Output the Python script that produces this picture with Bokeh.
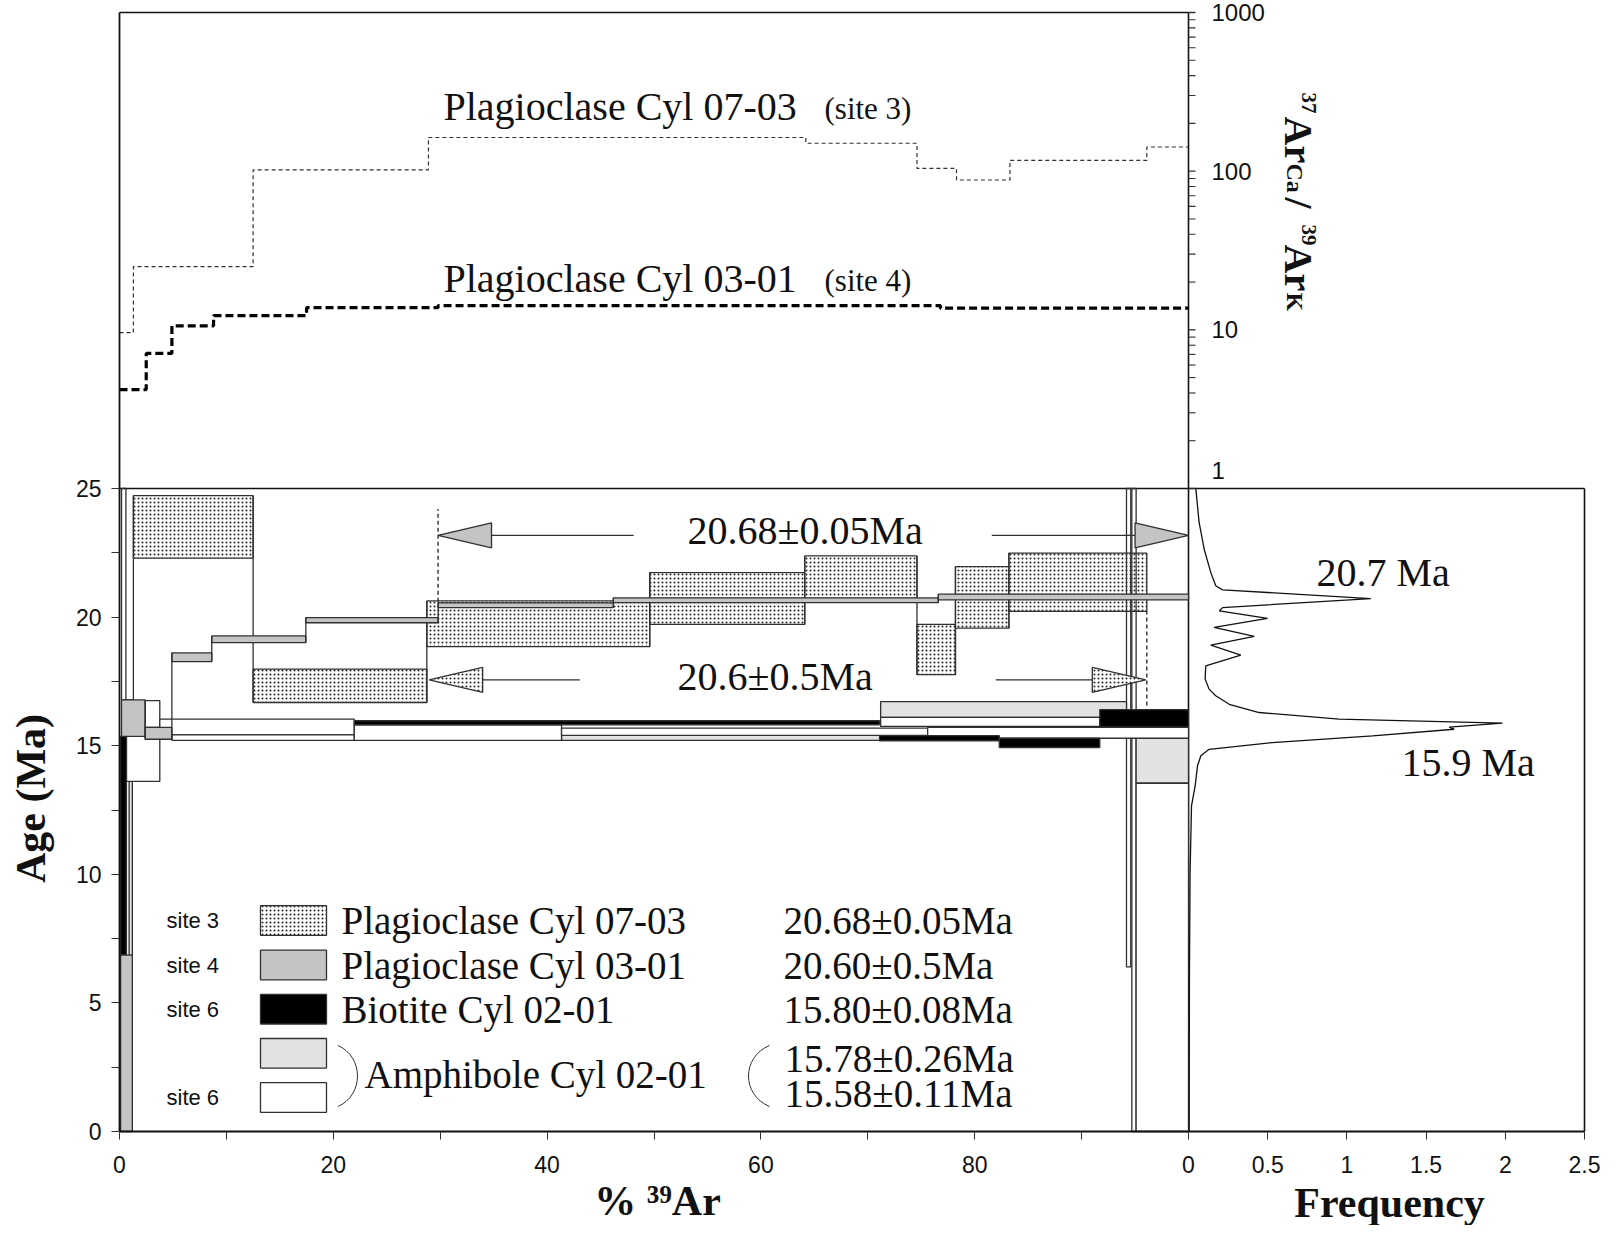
import math
from bokeh.plotting import figure
from bokeh.models import FixedTicker, Range1d, LogScale, CustomJSTickFormatter
from bokeh.embed import file_html
from bokeh.resources import INLINE
from bokeh.core.properties import value

# ======================= DATA =======================
# Upper panel: 37ArCa/39ArK step spectra (step edges in % 39Ar, ratio per step)
ratio_s3_edges = [0, 1.3, 12.5, 28.9, 64.2, 74.6, 78.3, 83.3, 96.1, 100]
ratio_s3 = [9.6, 25, 102, 163, 150, 104, 88, 117, 142]
ratio_s4_edges = [0, 2.5, 4.9, 8.8, 17.5, 29.8, 76.8, 100]
ratio_s4 = [4.2, 7.1, 10.6, 12.3, 13.8, 14.2, 13.7]
ratio_labels = ["Plagioclase Cyl 07-03", "Plagioclase Cyl 03-01"]
ratio_sites = ["(site 3)", "(site 4)"]

# Age spectra: step start / end (% 39Ar), age low / high (Ma)
s3_x0 = [0.6, 1.3, 12.5, 28.75, 49.6, 64.1, 74.6, 78.2, 83.2]
s3_x1 = [1.3, 12.5, 28.75, 49.6, 64.1, 74.6, 78.2, 83.2, 96.1]
s3_lo = [15.5, 22.29, 16.68, 18.85, 19.72, 20.6, 17.76, 19.57, 20.22]
s3_hi = [16.78, 24.72, 17.98, 20.63, 21.73, 22.38, 19.72, 21.96, 22.49]

s4_x0 = [0.1, 0.19, 2.4, 4.9, 8.63, 17.43, 29.81, 46.2, 76.6]
s4_x1 = [1.2, 2.4, 4.9, 8.63, 17.43, 29.81, 46.2, 76.6, 100]
s4_lo = [0.0, 15.36, 15.25, 18.27, 19.01, 19.78, 20.37, 20.56, 20.67]
s4_hi = [6.86, 16.78, 15.71, 18.61, 19.27, 19.98, 20.55, 20.75, 20.89]

bt_x0 = [0.1, 21.96, 71.1, 82.3, 91.7]
bt_x1 = [0.65, 71.1, 82.3, 91.7, 100]
bt_lo = [6.86, 15.81, 15.19, 14.93, 15.73]
bt_hi = [15.36, 15.97, 15.39, 15.29, 16.4]

am1_x0 = [0.9, 41.35, 71.2, 95.1]
am1_x1 = [1.2, 71.2, 94.2, 100]
am1_lo = [6.86, 15.21, 16.10, 13.54]
am1_hi = [13.61, 15.42, 16.71, 15.29]

am2_x0 = [0.65, 2.4, 3.77, 4.9, 21.96, 41.35, 71.2, 75.6, 95.1]
am2_x1 = [3.77, 3.77, 21.96, 21.96, 41.35, 75.6, 91.7, 100, 100]
am2_lo = [13.61, 15.71, 15.42, 15.21, 15.21, 15.40, 15.75, 15.29, 0.0]
am2_hi = [15.36, 16.75, 16.03, 15.42, 15.81, 15.68, 16.10, 15.71, 13.54]

# long (large-error) steps
long_x0 = [0.19, 94.2, 94.7]
long_x1 = [0.6, 94.6, 95.1]
long_lo = [16.78, 6.4, 0.0]
long_hi = [25.0, 25.0, 25.0]

# plateau arrows
plat_text = ["20.68\u00b10.05Ma", "20.6\u00b10.5Ma"]
plat_age = [23.18, 17.56]
plat_x0 = [29.8, 28.97]
plat_x1 = [100.0, 96.0]
plat_gap0 = [48.1, 43.06]
plat_gap1 = [81.6, 81.97]
plat_dash_x = [29.8, 96.1]
plat_dash_lo = [20.6, 16.56]
plat_dash_hi = [24.2, 20.22]

# probability density (frequency) curve
freq_age = [25.0, 23.68, 22.64, 21.73, 21.22, 21.06, 20.72, 20.37, 20.24, 19.95, 19.6,
            19.25, 18.91, 18.52, 18.1, 17.59, 17.2, 16.94, 16.61, 16.29, 16.03, 15.88,
            15.72, 15.64, 15.38, 15.12, 14.86, 14.61, 14.22, 13.44, 12.66, 10.07, 6.18, 0.0]
freq_val = [0.046, 0.067, 0.099, 0.141, 0.172, 0.215, 1.151, 0.215, 0.194, 0.499, 0.162,
            0.415, 0.141, 0.33, 0.109, 0.105, 0.13, 0.172, 0.257, 0.446, 0.951, 1.982,
            1.646, 1.677, 1.162, 0.53, 0.13, 0.078, 0.057, 0.042, 0.019, 0.01, 0.006, 0.004]
peak_text = ["20.7 Ma", "15.9 Ma"]

# legend
leg_site = ["site 3", "site 4", "site 6", "", "site 6"]
leg_name = ["Plagioclase Cyl 07-03", "Plagioclase Cyl 03-01", "Biotite Cyl 02-01"]
leg_value = ["20.68\u00b10.05Ma", "20.60\u00b10.5Ma", "15.80\u00b10.08Ma"]
amph_name = "Amphibole Cyl 02-01"
amph_values = ["15.78\u00b10.26Ma", "15.58\u00b10.11Ma"]

age_ticks = [0, 5, 10, 15, 20, 25]
pct_ticks = [0, 20, 40, 60, 80]
freq_ticks = [0, 0.5, 1, 1.5, 2, 2.5]
ratio_ticks = [1, 10, 100, 1000]

# ======================= GEOMETRY (page px) =======================
CAN_L, CAN_T, CAN_W, CAN_H = 8, 8, 1605, 1225
CAN_R, CAN_B = CAN_L + CAN_W, CAN_T + CAN_H
PX_L, PX_B = 127, 1139    # 0 % 39Ar, 0 Ma
PX_100 = 1196             # 100 % 39Ar  == frequency 0
PX_25 = 496               # 25 Ma == ratio 1
PX_1000 = 20              # ratio 1000
PX_F25 = 1592             # frequency 2.5

pct_px = (PX_100 - PX_L) / 100.0
age_px = (PX_B - PX_25) / 25.0
freq_px = (PX_F25 - PX_100) / 2.5
dec_px = (PX_25 - PX_1000) / 3.0
K = freq_px / pct_px   # % units per frequency unit


def px_x(px):
    return (px - PX_L) / pct_px


def px_age(py):
    return (PX_B - py) / age_px


def px_ratio(py):
    return 10 ** ((PX_25 - py) / dec_px)


def px_freq(px):
    return (px - PX_100) / freq_px


SERIF = value("Liberation Serif")
SANS = value("Liberation Sans")
EDGE = "#303030"
GRAY = "#c4c4c4"
LIGHT = "#e2e2e2"
INK = "#111111"

p = figure(width=CAN_W, height=CAN_H,
           x_range=Range1d(px_x(CAN_L), px_x(CAN_R)), y_range=Range1d(px_age(CAN_B), px_age(CAN_T)),
           output_backend="svg", toolbar_location=None, title=None,
           min_border_left=0, min_border_right=0, min_border_top=0, min_border_bottom=0)
p.extra_x_ranges = {"freq": Range1d(px_freq(CAN_L), px_freq(CAN_R))}
p.extra_y_ranges = {"ratio": Range1d(px_ratio(CAN_B), px_ratio(CAN_T))}
p.extra_y_scales = {"ratio": LogScale()}
p.grid.visible = False
p.outline_line_color = None
p.background_fill_color = "white"
p.border_fill_color = "white"

# axes (fixed at 0 % and 0 Ma)
ax = p.yaxis[0]
ax.fixed_location = 0
ax.ticker = FixedTicker(ticks=age_ticks, minor_ticks=[t + 2.5 for t in age_ticks[:-1]])
ax.bounds = (0, px_age(PX_1000))
bx = p.xaxis[0]
bx.fixed_location = 0
bx.ticker = FixedTicker(ticks=pct_ticks + [100 + f * K for f in freq_ticks],
                        minor_ticks=[t + 10 for t in pct_ticks])
bx.formatter = CustomJSTickFormatter(args=dict(k=K), code="""
if (tick < 99.99) { return tick.toFixed(0); }
const f = Math.round((tick - 100) / k * 10) / 10;
return String(f);
""")
bx.bounds = (0, px_x(PX_F25))
for a in (ax, bx):
    a.axis_line_color = INK
    a.axis_line_width = 1.8
    a.major_tick_line_color = EDGE
    a.minor_tick_line_color = EDGE
    a.major_tick_out = 8
    a.minor_tick_out = 8
    a.major_tick_in = 0
    a.minor_tick_in = 0
    a.major_label_text_font = "Liberation Sans"
    a.major_label_text_font_size = "23px"
    a.major_label_text_color = INK
ax.major_label_standoff = 10
bx.major_label_standoff = 16

# frame lines
fx0 = [0, 100, 0, px_x(PX_F25)]
fx1 = [100, 100, px_x(PX_F25), px_x(PX_F25)]
fy0 = [px_age(PX_1000), 0, 25, 0]
fy1 = [px_age(PX_1000), px_age(PX_1000), 25, 25]
p.segment(fx0, fy0, fx1, fy1, line_color=INK, line_width=1.6)

# ---------- upper panel ----------
p.step(ratio_s3_edges, ratio_s3 + [ratio_s3[-1]], mode="after", y_range_name="ratio",
       line_color=EDGE, line_width=1.2, line_dash="4 3")
p.step(ratio_s4_edges, ratio_s4 + [ratio_s4[-1]], mode="after", y_range_name="ratio",
       line_color="black", line_width=3.2, line_dash="8 4")
minor = [m * 10 ** d for d in range(3) for m in range(2, 10)]
tl = 7 / pct_px
p.segment([100] * len(ratio_ticks), ratio_ticks, [100 + tl] * len(ratio_ticks), ratio_ticks,
          y_range_name="ratio", line_color=EDGE, line_width=1.3)
p.segment([100] * len(minor), minor, [100 + tl] * len(minor), minor,
          y_range_name="ratio", line_color=EDGE, line_width=1.1)
rl_y = [px_ratio(478)] + ratio_ticks[1:]
p.text([px_x(1219)] * 4, rl_y, text=[str(t) for t in ratio_ticks], y_range_name="ratio",
       text_font=SANS, text_font_size="24px", text_color=INK, text_baseline="middle")
p.text([px_x(451)] * 2, [px_ratio(114), px_ratio(286)], text=ratio_labels, y_range_name="ratio",
       text_font=SERIF, text_font_size="40px", text_color=INK, text_baseline="middle")
p.text([px_x(832)] * 2, [px_ratio(116), px_ratio(288)], text=ratio_sites, y_range_name="ratio",
       text_font=SERIF, text_font_size="31px", text_color=INK, text_baseline="middle")
# right-hand title 37ArCa/39ArK (rotated, read downwards); (text, size, centre x px, start y px)
pieces = [("37", "21px", 1316, 100), ("Ar", "40px", 1306, 124), ("Ca", "24px", 1302, 171),
          ("/", "40px", 1306, 205), ("39", "21px", 1316, 232), ("Ar", "40px", 1306, 252),
          ("K", "24px", 1302, 300)]
for t, fs, cx_px, sy_px in pieces:
    p.text([px_x(cx_px)], [px_ratio(sy_px)], text=[t], y_range_name="ratio", angle=-math.pi / 2,
           text_font=SERIF, text_font_size=fs, text_font_style="bold", text_color=INK,
           text_align="left", text_baseline="middle")

# ---------- age spectra ----------
BOX = dict(line_color=EDGE, line_width=1.3)
DOTS = dict(fill_color="white", hatch_pattern="dot", hatch_color="#222", hatch_scale=4,
            hatch_weight=1.1)


def connectors(x0, x1, lo, hi):
    xs, a, b = [], [], []
    for i in range(len(x0) - 1):
        if abs(x1[i] - x0[i + 1]) < 1e-9:
            xs.append(x1[i])
            a.append(min(lo[i], lo[i + 1]))
            b.append(max(hi[i], hi[i + 1]))
    p.segment(xs, a, xs, b, line_color=EDGE, line_width=1.3)


p.quad(left=s3_x0, right=s3_x1, bottom=s3_lo, top=s3_hi, **BOX, **DOTS)
connectors(s3_x0, s3_x1, s3_lo, s3_hi)
p.quad(left=long_x0, right=long_x1, bottom=long_lo, top=long_hi, fill_alpha=0, **BOX)
p.quad(left=am1_x0, right=am1_x1, bottom=am1_lo, top=am1_hi, fill_color=LIGHT, **BOX)
p.quad(left=am2_x0, right=am2_x1, bottom=am2_lo, top=am2_hi, fill_color="white", **BOX)
p.quad(left=bt_x0, right=bt_x1, bottom=bt_lo, top=bt_hi, fill_color="black", **BOX)
p.quad(left=s4_x0, right=s4_x1, bottom=s4_lo, top=s4_hi, fill_color=GRAY, **BOX)
connectors(s4_x0, s4_x1, s4_lo, s4_hi)

# plateau arrows
HEAD, HALF = 5.0, 0.485
p.segment(plat_dash_x, plat_dash_lo, plat_dash_x, plat_dash_hi, line_color=EDGE,
          line_width=1.4, line_dash="4 3")
sx0, sx1, sy = [], [], []
for i in range(2):
    sx0 += [plat_x0[i] + HEAD, plat_gap1[i]]
    sx1 += [plat_gap0[i], plat_x1[i] - HEAD]
    sy += [plat_age[i], plat_age[i]]
p.segment(sx0, sy, sx1, sy, line_color=EDGE, line_width=1.3)
tri_x, tri_y = [], []
for i in range(2):
    a = plat_age[i]
    tri_x.append([plat_x0[i], plat_x0[i] + HEAD, plat_x0[i] + HEAD])
    tri_x.append([plat_x1[i], plat_x1[i] - HEAD, plat_x1[i] - HEAD])
    tri_y += [[a, a + HALF, a - HALF]] * 2
p.patches(tri_x[:2], tri_y[:2], fill_color=GRAY, **BOX)
p.patches(tri_x[2:], tri_y[2:], **BOX, **DOTS)
p.text([px_x(695), px_x(685)], [px_age(538), px_age(684)], text=plat_text,
       text_font=SERIF, text_font_size="40px", text_color=INK, text_baseline="middle")

# ---------- frequency panel ----------
p.line(freq_val, freq_age, x_range_name="freq", line_color=INK, line_width=1.3)
p.text([px_freq(1324), px_freq(1409)], [px_age(580), px_age(770)], text=peak_text,
       x_range_name="freq", text_font=SERIF, text_font_size="40px", text_color=INK,
       text_baseline="middle")

# ---------- legend ----------
row_age = [px_age(c) for c in (928, 972.5, 1016.7, 1060.8, 1105)]
hh = 0.575
sw0, sw1 = px_x(268), px_x(334)
fills = [GRAY, "black", LIGHT, "white"]
p.quad(left=[sw0], right=[sw1], bottom=[row_age[0] - hh], top=[row_age[0] + hh], **BOX, **DOTS)
p.quad(left=[sw0] * 4, right=[sw1] * 4, bottom=[r - hh for r in row_age[1:]],
       top=[r + hh for r in row_age[1:]], fill_color=fills, **BOX)
p.text([px_x(174)] * 5, row_age, text=leg_site, text_font=SANS, text_font_size="22px",
       text_color=INK, text_baseline="middle")
p.text([px_x(349)] * 3, row_age[:3], text=leg_name, text_font=SERIF, text_font_size="39px",
       text_color=INK, text_baseline="middle")
p.text([px_x(791)] * 3, row_age[:3], text=leg_value, text_font=SERIF, text_font_size="39px",
       text_color=INK, text_baseline="middle")
p.text([px_x(372)], [px_age(1082)], text=[amph_name], text_font=SERIF, text_font_size="39px",
       text_color=INK, text_baseline="middle")
p.text([px_x(792)] * 2, [px_age(1066), px_age(1101)], text=amph_values, text_font=SERIF,
       text_font_size="39px", text_color=INK, text_baseline="middle")
yb0, yb1 = px_age(1053), px_age(1114)
p.bezier([px_x(345.5), px_x(777)], [yb0, yb0], [px_x(345.5), px_x(777)], [yb1, yb1],
         [px_x(371.5), px_x(749)], [yb0 - 0.45, yb0 - 0.45],
         [px_x(371.5), px_x(749)], [yb1 + 0.45, yb1 + 0.45], line_color=EDGE, line_width=1.0)

# ---------- axis titles ----------
p.text([px_x(38)], [px_age(806)], text=["Age (Ma)"], angle=math.pi / 2, text_align="center",
       text_baseline="middle", text_font=SERIF, text_font_size="42px", text_font_style="bold",
       text_color=INK)
p.text([px_x(665)], [px_age(1208)], text=["% \u00b3\u2079Ar"], text_align="center",
       text_baseline="middle", text_font=SERIF, text_font_size="42px", text_font_style="bold",
       text_color=INK)
p.text([px_freq(1397)], [px_age(1210)], text=["Frequency"], x_range_name="freq",
       text_align="center", text_baseline="middle", text_font=SERIF, text_font_size="42px",
       text_font_style="bold", text_color=INK)

open("out.html", "w").write(file_html(p, INLINE))
